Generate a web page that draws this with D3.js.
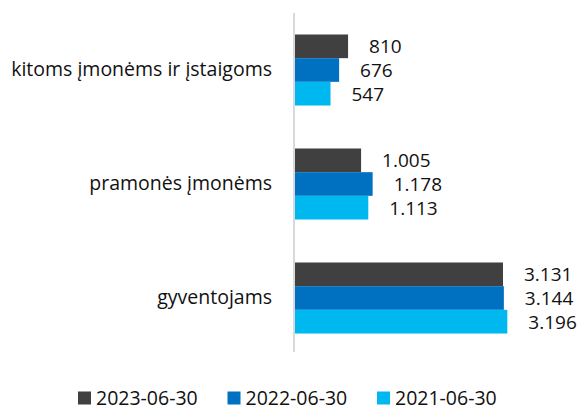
<!DOCTYPE html>
<html>
<head>
<meta charset="utf-8">
<script src="https://cdn.jsdelivr.net/npm/d3@7/dist/d3.min.js"></script>
<style>
  html, body { margin: 0; padding: 0; background: #fff; }
  svg { display: block; font-family: "Open Sans", sans-serif; }
</style>
</head>
<body>
<svg id="chart" width="581" height="412"></svg>
<script>
const categories = ["kitoms įmonėms ir įstaigoms", "pramonės įmonėms", "gyventojams"];
const seriesNames = ["2023-06-30", "2022-06-30", "2021-06-30"];
const values2023 = [810, 1005, 3131];
const values2022 = [676, 1178, 3144];
const values2021 = [547, 1113, 3196];
const seriesValues = [values2023, values2022, values2021];
const colors = ["#404040", "#0070c0", "#00b8f0"];

const svg = d3.select("#chart");
const fmt = v => d3.format(",")(v).replace(/,/g, ".");

const x = d3.scaleLinear().domain([0, 4000]).range([294, 561]);
const y = d3.scaleBand().domain(categories).range([13, 355]).paddingInner(0.377).paddingOuter(0.1885);
const ySub = d3.scaleBand().domain(seriesNames).range([0, y.bandwidth()]);

const data = [];
categories.forEach((c, ci) => {
  seriesNames.forEach((s, si) => {
    data.push({ cat: c, series: s, si, value: seriesValues[si][ci] });
  });
});

// bars
svg.append("g").selectAll("rect").data(data).join("rect")
  .attr("x", x(0))
  .attr("y", d => y(d.cat) + ySub(d.series))
  .attr("width", d => x(d.value) - x(0))
  .attr("height", ySub.bandwidth())
  .attr("fill", d => colors[d.si]);

// value labels
svg.append("g").selectAll("text").data(data).join("text")
  .attr("x", d => x(d.value) + 21)
  .attr("y", d => y(d.cat) + ySub(d.series) + ySub.bandwidth() / 2)
  .attr("dy", "0.36em")
  .attr("font-size", 19)
  .attr("fill", "#111")
  .text(d => fmt(d.value));

// category axis
const yAxis = svg.append("g").attr("transform", `translate(${x(0)},0)`)
  .call(d3.axisLeft(y).tickSize(0).tickPadding(22));
yAxis.select(".domain").attr("d", "M0,13V352").attr("stroke", "#d9d9d9").attr("stroke-width", 2);
yAxis.selectAll("text").attr("font-size", 19.5).attr("fill", "#111").attr("font-family", "Open Sans, sans-serif");

// legend
const legend = svg.append("g");
const item = legend.selectAll("g").data(seriesNames).join("g")
  .attr("transform", (d, i) => `translate(${78 + i * 149.5},0)`);
item.append("rect").attr("x", 0).attr("y", 391.5).attr("width", 13).attr("height", 13)
  .attr("fill", (d, i) => colors[i]);
item.append("text").attr("x", 18).attr("y", 397.5).attr("dy", "0.36em")
  .attr("font-size", 19.5).attr("fill", "#111").text(d => d);
</script>
</body>
</html>
